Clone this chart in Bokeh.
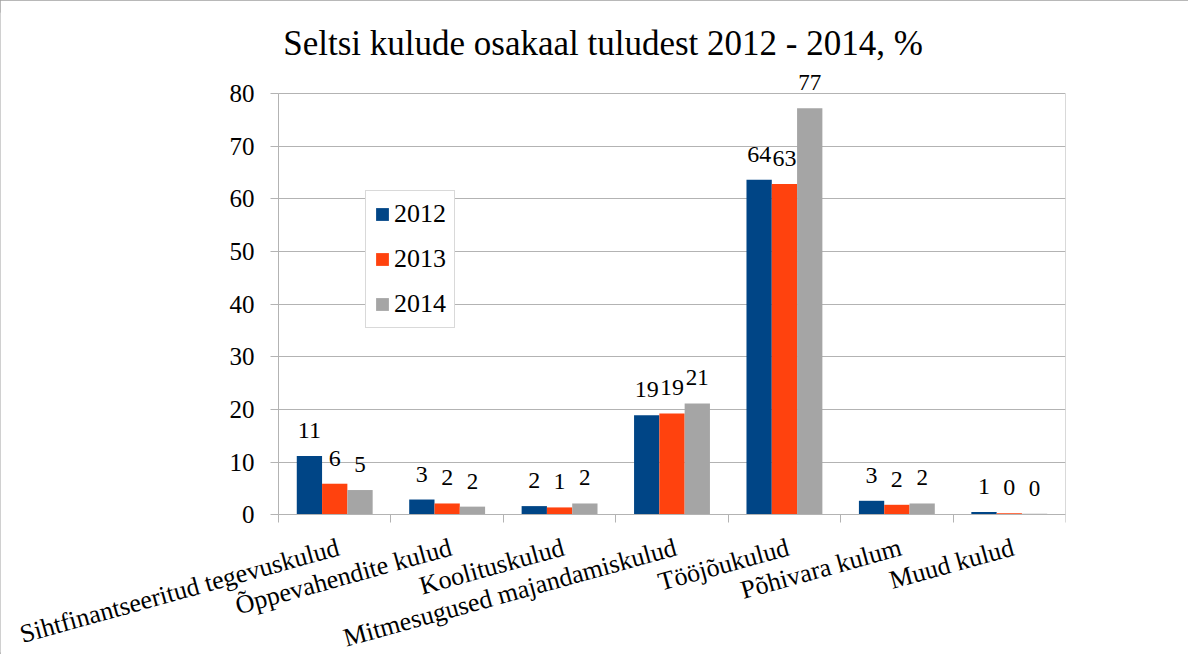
from bokeh.plotting import figure
from bokeh.models import (ColumnDataSource, FixedTicker, Range1d, Legend, LegendItem,
                          LabelSet, Label, LinearAxis, Grid)
from bokeh.embed import file_html
from bokeh.resources import INLINE

title_text = "Seltsi kulude osakaal tuludest 2012 - 2014, %"
categories = ["Sihtfinantseeritud tegevuskulud", "Õppevahendite kulud", "Koolituskulud",
              "Mitmesugused majandamiskulud", "Tööjõukulud", "Põhivara kulum", "Muud kulud"]
years = ["2012", "2013", "2014"]
v2012 = [11.15, 2.9, 1.65, 18.9, 63.6, 2.66, 0.55]
v2013 = [5.9, 2.15, 1.4, 19.25, 62.8, 1.9, 0.3]
v2014 = [4.7, 1.55, 2.15, 21.15, 77.2, 2.15, 0.2]
y_ticks = [0, 10, 20, 30, 40, 50, 60, 70, 80]
y_max = 80

colors = ["#004586", "#ff420e", "#a5a5a5"]
SERIF = "Liberation Serif"
SANS = "Liberation Sans"
GRID = "#b3b3b3"

n = len(categories)

# layout in pixels: the frame covers almost the whole canvas so that the title,
# the data labels and the slanted category labels are drawn inside it; the axes
# are fixed at value 0 and the value area spans 0..n by 0..80.
PLOT_W_PX = 787.0      # width of the value area (7 categories)
PLOT_H_PX = 421.4      # height of the value area (0..80)
LEFT_PX = 278.0        # frame space left of the value area
TOP_PX = 80.9          # frame space above the 80 line
BOTTOM_PX = 137.7      # frame space below the 0 line
FRAME_W = int(LEFT_PX + PLOT_W_PX)
FRAME_H = int(round(TOP_PX + PLOT_H_PX + BOTTOM_PX))
px_x = PLOT_W_PX / n
px_y = PLOT_H_PX / y_max
x_start = -LEFT_PX / px_x
y_top = y_max + TOP_PX / px_y
y_bottom = -BOTTOM_PX / px_y

centers = [i + 0.5 for i in range(n)]
bw = 0.225
offsets = [-bw, 0.0, bw]

p = figure(frame_width=FRAME_W, frame_height=FRAME_H, output_backend="svg",
           toolbar_location=None, x_range=Range1d(x_start, n), y_range=Range1d(y_bottom, y_top),
           min_border=0, min_border_left=0, min_border_right=123, min_border_top=12,
           min_border_bottom=2, x_axis_location=None, y_axis_location=None)
p.styles = {"outline": "1px solid #a0a0a0", "outline-offset": "-1px"}
p.outline_line_color = None
p.background_fill_color = "white"

# horizontal grid lines limited to the value area
p.xgrid.grid_line_color = None
p.ygrid.grid_line_color = None
if "cross_bounds" in Grid.properties():
    p.add_layout(Grid(dimension=1, ticker=FixedTicker(ticks=y_ticks), cross_bounds=(0, n),
                      grid_line_color=GRID))
else:
    p.segment(x0=[0] * len(y_ticks), x1=[n] * len(y_ticks), y0=y_ticks, y1=y_ticks,
              line_color=GRID, line_width=1, level="underlay")

renderers = []
series = [v2012, v2013, v2014]
label_sizes = ["24px", "24px", "23px"]
for k, vals in enumerate(series):
    src = ColumnDataSource(dict(
        x=[c + offsets[k] for c in centers],
        top=vals,
        lab=["{:.0f}".format(v) for v in vals],
    ))
    r = p.vbar(x="x", top="top", bottom=0, width=bw, source=src,
               fill_color=colors[k], line_color=None)
    renderers.append(r)
    p.add_layout(LabelSet(x="x", y="top", text="lab", source=src, y_offset=18,
                          text_align="center", text_baseline="alphabetic",
                          text_font=SERIF if k < 2 else SANS, text_font_size=label_sizes[k],
                          text_color="black"))

# x axis at value 0, ticks at category boundaries
xax = LinearAxis(fixed_location=0, bounds=(0, n),
                 ticker=FixedTicker(ticks=[], minor_ticks=list(range(n + 1))),
                 axis_line_color=GRID, major_tick_line_color=None,
                 minor_tick_line_color=GRID, minor_tick_out=8, minor_tick_in=0,
                 major_label_text_color=None)
p.add_layout(xax, "below")

# y axis at x = 0
yax = LinearAxis(fixed_location=0, bounds=(0, y_max), ticker=FixedTicker(ticks=y_ticks),
                 major_label_text_font=SERIF, major_label_text_font_size="25px",
                 major_label_text_color="black", major_label_standoff=16,
                 major_tick_line_color=GRID, major_tick_out=8, major_tick_in=0,
                 minor_tick_line_color=None, axis_line_color=GRID)
p.add_layout(yax, "left")

# right edge of the value area
rax = LinearAxis(fixed_location=n, bounds=(0, y_max), ticker=FixedTicker(ticks=[]),
                 axis_line_color=GRID, major_tick_line_color=None,
                 minor_tick_line_color=None, major_label_text_color=None)
p.add_layout(rax, "right")

# category labels
cat_src = ColumnDataSource(dict(x=centers, y=[0] * n, t=categories))
p.add_layout(LabelSet(x="x", y="y", text="t", source=cat_src, y_offset=-18, angle=0.27,
                      text_align="right", text_baseline="top", text_font=SERIF,
                      text_font_size="26px", text_color="black"))

# title
p.add_layout(Label(x=2.887, y=y_max, y_offset=50, text=title_text, text_font=SERIF,
                   text_font_size="35px", text_align="center", text_baseline="alphabetic",
                   text_color="black"))

legend = Legend(items=[LegendItem(label=y, renderers=[r]) for y, r in zip(years, renderers)],
                location=(int(LEFT_PX + 87), int(BOTTOM_PX + 187)))
legend.label_text_font = SERIF
legend.label_text_font_size = "26px"
legend.label_text_color = "black"
legend.glyph_width = 16
legend.glyph_height = 16
legend.label_standoff = 4
legend.padding = 8
legend.spacing = 15
legend.border_line_color = GRID
legend.border_line_width = 1
legend.background_fill_alpha = 1.0
p.add_layout(legend, "center")

open("out.html", "w").write(file_html(p, INLINE))
